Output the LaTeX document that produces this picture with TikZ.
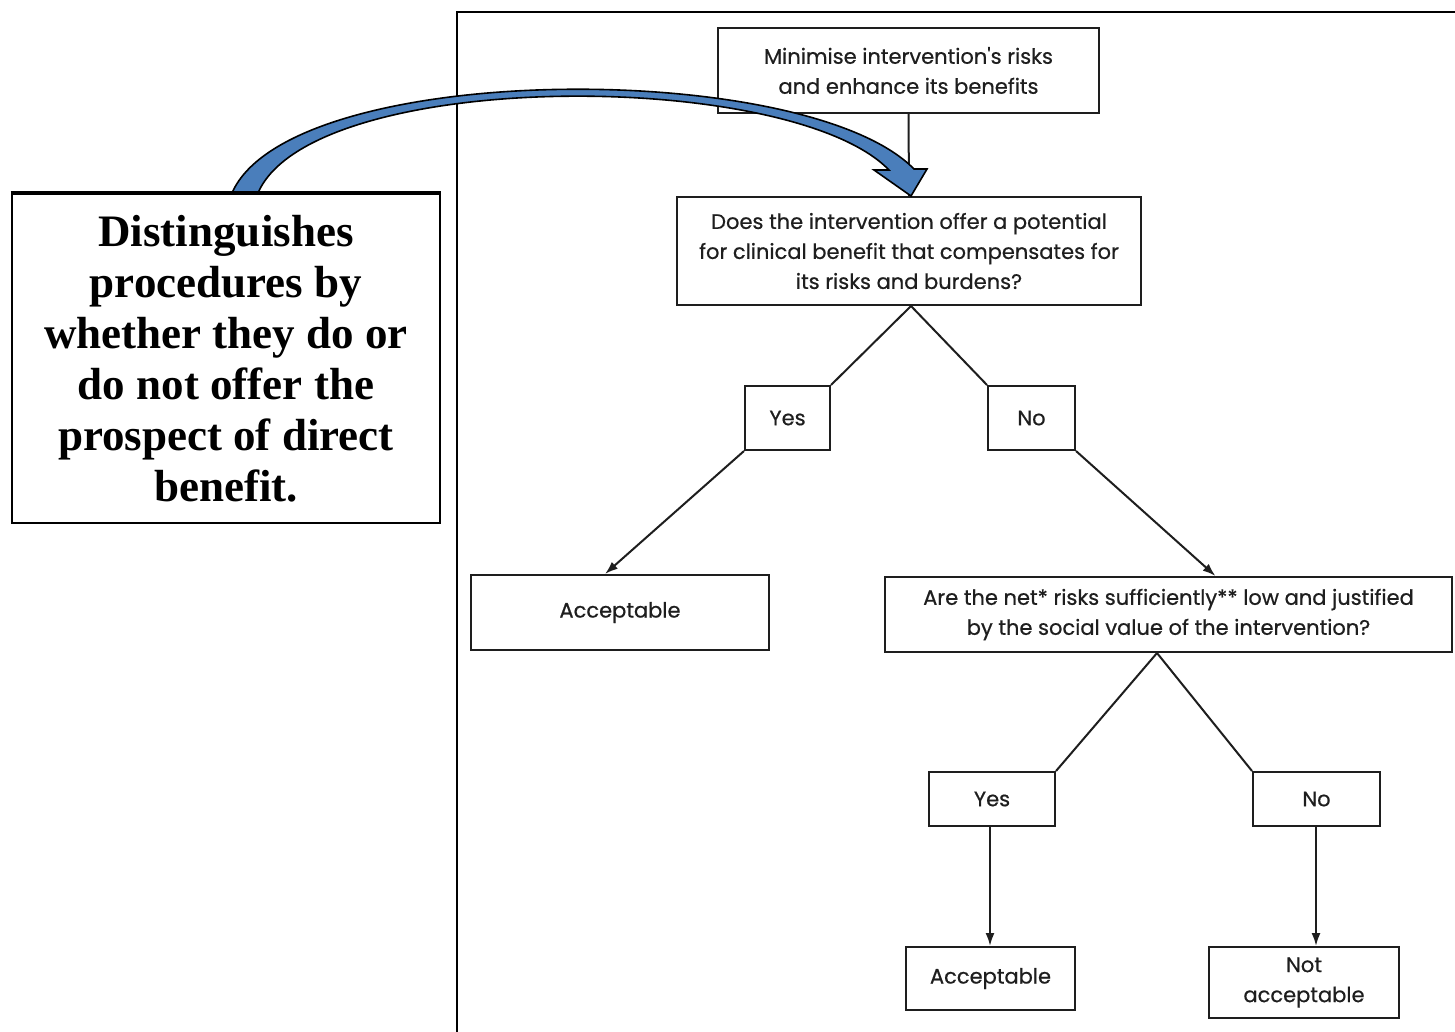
\documentclass[tikz,border=0pt]{standalone}
\usepackage{fontspec}
\setmainfont{Poppins}[FakeBold=0.6]
\newfontfamily\serifbold{Liberation Serif}
\usetikzlibrary{arrows.meta}
\definecolor{arrowblue}{RGB}{74,126,187}
\definecolor{ink}{RGB}{30,30,30}
\tikzset{
  box/.style={draw=ink, line width=2pt, align=center, inner sep=0pt,
    font=\fontsize{21}{30}\selectfont, text=ink},
  conn/.style={draw=ink, line width=2pt},
  arr/.style={conn, -{Latex[length=13pt,width=9pt]}},
}
\begin{document}
\begin{tikzpicture}[x=1pt,y=-1pt]
\useasboundingbox (0,0) rectangle (1455,1031);
% frame
\draw[line width=2.8pt, black] (457,1040) -- (457,12) -- (1460,12);
% nodes
\node[box, minimum width=381pt, minimum height=85pt] (top) at (908.5,70.5) {Minimise intervention\textquotesingle s risks\\and enhance its benefits};
\node[box, minimum width=464pt, minimum height=108pt] (q1) at (909,251) {Does the intervention offer a potential\\for clinical benefit that compensates for\\its risks and burdens?};
\node[box, minimum width=85pt, minimum height=64pt] (yes1) at (787.5,418) {Yes};
\node[box, minimum width=87pt, minimum height=64pt] (no1) at (1031.5,418) {No};
\node[box, minimum width=298pt, minimum height=75pt] (acc1) at (620,612.5) {Acceptable};
\node[box, minimum width=567pt, minimum height=75pt] (q2) at (1168.5,614.5) {Are the net* risks sufficiently** low and justified\\by the social value of the intervention?};
\node[box, minimum width=126pt, minimum height=54pt] (yes2) at (992,799) {Yes};
\node[box, minimum width=127pt, minimum height=54pt] (no2) at (1316.5,799) {No};
\node[box, minimum width=169pt, minimum height=63pt] (acc2) at (990.5,978.5) {Acceptable};
\node[box, minimum width=190pt, minimum height=71pt] (nacc) at (1304,982.5) {Not\\acceptable};
\node[draw=black, line width=2.8pt, minimum width=428pt, minimum height=329pt, inner sep=0pt,
  align=center, font=\serifbold\bfseries\fontsize{45}{51}\selectfont] (left) at (226,358.5)
  {Distinguishes\\procedures by\\whether they do or\\do not offer the\\prospect of direct\\benefit.};
% connectors
\coordinate (q1b) at ([xshift=2pt]q1.south);
\coordinate (q2b) at ([xshift=-11.5pt]q2.south);
\draw[conn] (top.south) -- (q1.north);
\draw[conn] (q1b) -- (yes1.north east);
\draw[conn] (q1b) -- (no1.north west);
\draw[arr] (yes1.south west) -- ([xshift=-15pt]acc1.north);
\draw[arr] (no1.south east) -- ([xshift=47pt]q2.north);
\draw[conn] (q2b) -- (yes2.north east);
\draw[conn] (q2b) -- (no2.north west);
\draw[arr] ([xshift=-2pt]yes2.south) -- ([xshift=-2pt]yes2.south |- acc2.north);
\draw[arr] ([xshift=-0.5pt]no2.south) -- ([xshift=-0.5pt]no2.south |- nacc.north);
% curved blue arrow
\coordinate (tip) at (911,196);
\draw[fill=arrowblue, draw=black, line width=1.6pt, line join=miter]
  (232,193) .. controls (290,60) and (805,58) .. (914,169)
  -- (927,169) -- (tip) -- (874,170) -- (889,170)
  .. controls (790,68) and (312,68) .. (258,193) -- cycle;
\draw[line width=2.8pt, black] (left.north west) -- (left.north east);
\end{tikzpicture}
\end{document}
